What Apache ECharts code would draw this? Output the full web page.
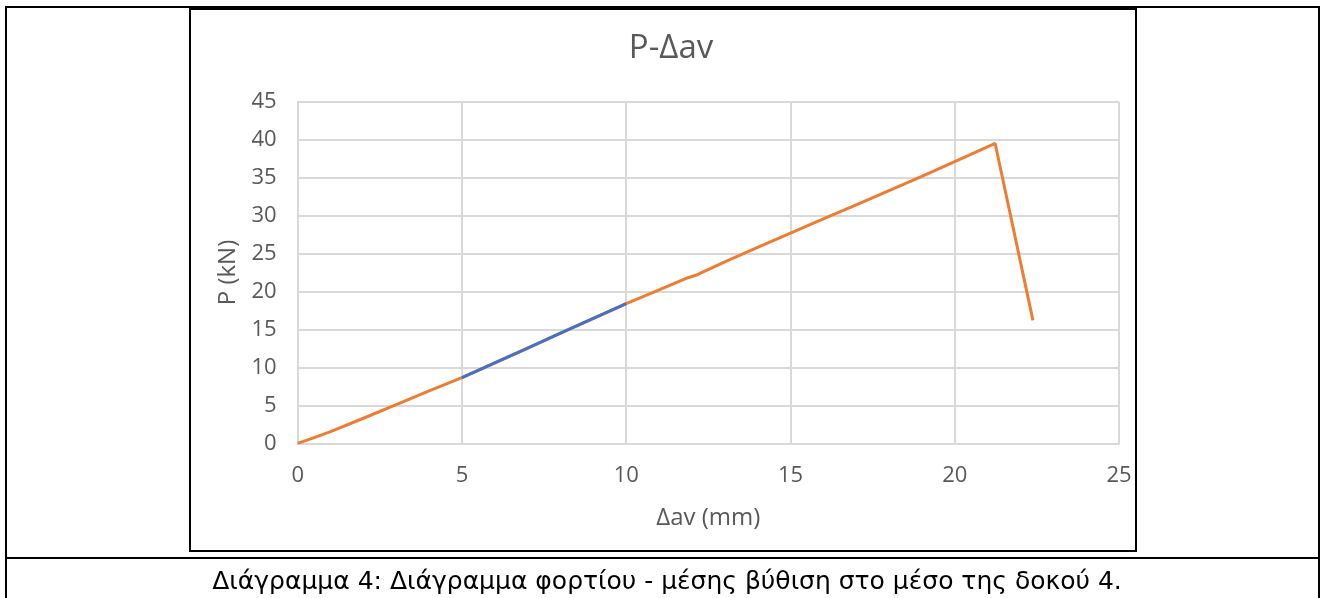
<!DOCTYPE html>
<html>
<head>
<meta charset="utf-8">
<script src="https://cdn.jsdelivr.net/npm/echarts@6/dist/echarts.min.js"></script>
<style>
html,body{margin:0;padding:0;background:#fff;}
#chart{width:1323px;height:598px;}
</style>
</head>
<body>
<div id="chart"></div>
<script>
// Data
var titleText = 'P-Δav';
var xAxisName = 'Δav (mm)';
var yAxisName = 'P (kN)';
var caption = 'Διάγραμμα 4: Διάγραμμα φορτίου - μέσης βύθιση στο μέσο της δοκού 4.';

// Full load-deflection curve (orange)
var curveX = [0, 0.5, 1, 2, 3, 4, 5, 6, 7, 8, 9, 10, 11, 11.9, 12.1, 13, 14, 15, 16, 17, 18, 19, 20, 21.23, 22.38];
var curveP = [0, 0.75, 1.55, 3.3, 5.1, 6.9, 8.65, 10.6, 12.55, 14.5, 16.45, 18.4, 20.2, 21.85, 22.1, 23.9, 25.8, 27.7, 29.55, 31.4, 33.3, 35.15, 37.1, 39.5, 16.2];
// Highlighted segment (blue)
var segX = [5, 6, 7, 8, 9, 10];
var segP = [8.65, 10.6, 12.55, 14.5, 16.45, 18.4];

var xTicks = {min: 0, max: 25, interval: 5};
var yTicks = {min: 0, max: 45, interval: 5};

function pairs(xs, ys) { return xs.map(function (x, i) { return [x, ys[i]]; }); }

var chart = echarts.init(document.getElementById('chart'), null, {renderer: 'canvas'});
var txt = '#595959';
var grid = '#d9d9d9';
var font = 'Open Sans';

function bar(x, y, w, h) {
  return {type: 'rect', silent: true, z: 100, shape: {x: x, y: y, width: w, height: h}, style: {fill: '#000'}};
}

chart.setOption({
  animation: false,
  backgroundColor: '#fff',
  title: [
    {text: titleText, left: 666, top: 27, textAlign: 'center',
     textStyle: {fontFamily: font, fontSize: 33, fontWeight: 'normal', color: txt}},
    {text: caption, left: 662, top: 565, textAlign: 'center',
     textStyle: {fontFamily: 'DejaVu Sans', fontSize: 25, fontWeight: 'normal', color: '#000'}}
  ],
  grid: {left: 297.7, right: 204, top: 101.7, bottom: 154.7, containLabel: false},
  xAxis: {
    type: 'value', min: xTicks.min, max: xTicks.max, interval: xTicks.interval,
    name: xAxisName, nameLocation: 'middle', nameGap: 63,
    nameTextStyle: {fontFamily: font, fontSize: 24, color: txt},
    axisLine: {show: true, lineStyle: {color: grid, width: 2}},
    axisTick: {show: false},
    axisLabel: {fontFamily: font, fontSize: 22, color: txt, margin: 21},
    splitLine: {show: true, lineStyle: {color: grid, width: 2}}
  },
  yAxis: {
    type: 'value', min: yTicks.min, max: yTicks.max, interval: yTicks.interval,
    name: yAxisName, nameLocation: 'middle', nameGap: 58,
    nameTextStyle: {fontFamily: font, fontSize: 24, color: txt},
    axisLine: {show: true, lineStyle: {color: grid, width: 2}},
    axisTick: {show: false},
    axisLabel: {fontFamily: font, fontSize: 22, color: txt, margin: 21},
    splitLine: {show: true, lineStyle: {color: grid, width: 2}}
  },
  series: [
    {type: 'line', data: pairs(curveX, curveP), showSymbol: false, symbol: 'none',
     lineStyle: {color: '#ED7D31', width: 3}, itemStyle: {color: '#ED7D31'}, z: 2},
    {type: 'line', data: pairs(segX, segP), showSymbol: false, symbol: 'none',
     lineStyle: {color: '#4472C4', width: 3}, itemStyle: {color: '#4472C4'}, z: 3}
  ],
  graphic: [
    // outer table borders
    bar(5, 6, 2, 592),
    bar(1318, 6, 2, 592),
    bar(5, 6, 1315, 2),
    // chart box
    bar(189, 8, 2, 544),
    bar(1135, 8, 2, 544),
    bar(189, 8, 948, 2),
    bar(189, 550, 948, 2),
    // row separator
    bar(5, 557, 1315, 2)
  ]
});
</script>
</body>
</html>
